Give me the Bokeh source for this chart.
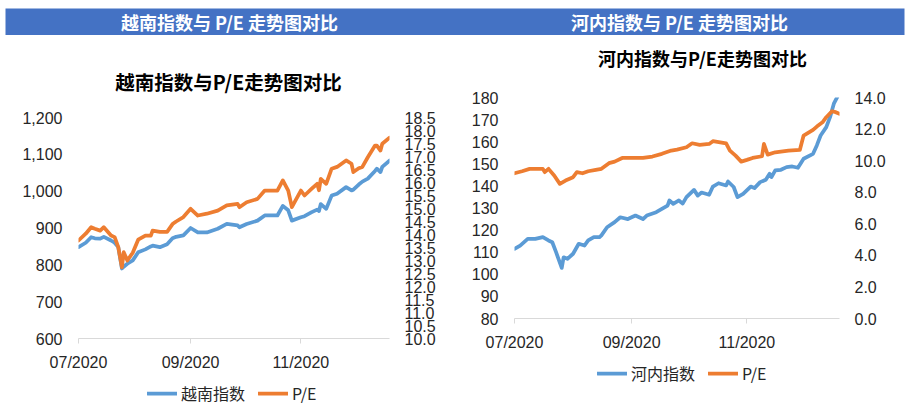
import pandas as pd
from bokeh.plotting import figure
from bokeh.models import (Range1d, LinearAxis, FixedTicker, NumeralTickFormatter,
                          DatetimeTickFormatter, Legend, LegendItem)
from bokeh.core.properties import value
from bokeh.embed import file_html
from bokeh.resources import INLINE

# ---------------- data ----------------
header_titles = ["越南指数与 P/E 走势图对比", "河内指数与 P/E 走势图对比"]
chart_titles = ["越南指数与P/E走势图对比", "河内指数与P/E走势图对比"]
legend_labels_vn = ["越南指数", "P/E"]
legend_labels_hn = ["河内指数", "P/E"]
tick_dates = ["2020-07-01", "2020-09-01", "2020-11-01"]
x_start, x_end = "2020-07-01", "2020-12-20"

vn_dates = ["2020-07-01", "2020-07-05", "2020-07-08", "2020-07-10", "2020-07-13", "2020-07-15",
            "2020-07-19", "2020-07-21", "2020-07-23", "2020-07-25", "2020-07-26", "2020-07-28",
            "2020-07-31", "2020-08-03", "2020-08-07", "2020-08-10", "2020-08-11", "2020-08-15",
            "2020-08-19", "2020-08-22", "2020-08-24", "2020-08-28", "2020-09-01", "2020-09-05",
            "2020-09-10", "2020-09-16", "2020-09-21", "2020-09-27", "2020-09-28", "2020-10-02",
            "2020-10-08", "2020-10-12", "2020-10-19", "2020-10-22", "2020-10-25", "2020-10-27",
            "2020-11-01", "2020-11-03", "2020-11-07", "2020-11-10", "2020-11-11", "2020-11-12",
            "2020-11-15", "2020-11-18", "2020-11-21", "2020-11-26", "2020-11-29", "2020-11-30",
            "2020-12-03", "2020-12-05", "2020-12-08", "2020-12-12", "2020-12-13", "2020-12-15",
            "2020-12-16", "2020-12-20"]
vn_index = [848, 860, 875, 872, 871, 876, 866, 860, 848, 790, 795, 803,
            812, 834, 842, 850, 852, 848, 856, 872, 876, 880, 900, 888,
            888, 898, 911, 907, 902, 911, 920, 934, 934, 960, 948, 920,
            929, 932, 943, 950, 946, 965, 952, 988, 993, 1011, 1002, 1004,
            1018, 1026, 1034, 1055, 1061, 1052, 1066, 1083]
vn_pe = [13.77, 14.03, 14.28, 14.22, 14.15, 14.28, 13.96, 13.90, 13.51, 12.74, 13.32, 13.00,
         13.30, 13.80, 13.96, 13.96, 14.15, 14.10, 14.10, 14.40, 14.50, 14.67, 14.99, 14.73,
         14.80, 14.92, 15.12, 15.18, 15.05, 15.24, 15.37, 15.69, 15.69, 16.08, 15.69, 15.05,
         15.69, 15.50, 15.76, 15.95, 15.70, 16.14, 15.95, 16.53, 16.60, 16.85, 16.72, 16.40,
         16.55, 16.60, 16.97, 17.42, 17.42, 17.23, 17.49, 17.72]

hn_index_dates = ["2020-07-01", "2020-07-04", "2020-07-08", "2020-07-12", "2020-07-16", "2020-07-19",
                  "2020-07-21", "2020-07-23", "2020-07-26", "2020-07-27", "2020-07-29", "2020-08-01",
                  "2020-08-04", "2020-08-07", "2020-08-09", "2020-08-12", "2020-08-15", "2020-08-16",
                  "2020-08-19", "2020-08-23", "2020-08-26", "2020-08-30", "2020-09-03", "2020-09-07",
                  "2020-09-09", "2020-09-14", "2020-09-17", "2020-09-20", "2020-09-21", "2020-09-23",
                  "2020-09-26", "2020-09-28", "2020-09-30", "2020-10-04", "2020-10-06", "2020-10-08",
                  "2020-10-12", "2020-10-14", "2020-10-17", "2020-10-21", "2020-10-22", "2020-10-25",
                  "2020-10-27", "2020-10-30", "2020-11-03", "2020-11-05", "2020-11-08", "2020-11-11",
                  "2020-11-13", "2020-11-14", "2020-11-16", "2020-11-19", "2020-11-22", "2020-11-25",
                  "2020-11-28", "2020-12-01", "2020-12-06", "2020-12-08", "2020-12-10", "2020-12-13",
                  "2020-12-15", "2020-12-17", "2020-12-19"]
hn_index = [111.5, 113.0, 116.0, 116.0, 116.8, 115.3, 114.5, 110.0, 102.9, 107.7, 107.0, 109.3,
            113.8, 113.0, 115.3, 116.8, 116.8, 117.6, 121.3, 123.6, 125.8, 125.0, 126.6, 125.0,
            126.6, 128.1, 129.6, 131.1, 133.4, 131.9, 133.4, 132.0, 134.9, 138.2, 135.6, 137.0,
            136.0, 139.7, 141.2, 140.2, 142.0, 139.5, 134.9, 136.4, 139.7, 139.0, 141.7, 142.8,
            145.5, 144.0, 147.0, 147.3, 148.5, 148.8, 148.2, 152.3, 154.5, 158.3, 162.8, 166.6,
            171.1, 177.2, 180.5]

hn_pe_dates = ["2020-07-01", "2020-07-05", "2020-07-09", "2020-07-16", "2020-07-17", "2020-07-19",
               "2020-07-22", "2020-07-25", "2020-07-28", "2020-08-01", "2020-08-03", "2020-08-06",
               "2020-08-09", "2020-08-13", "2020-08-16", "2020-08-20", "2020-08-23", "2020-08-27",
               "2020-09-01", "2020-09-07", "2020-09-12", "2020-09-17", "2020-09-22", "2020-09-25",
               "2020-09-30", "2020-10-03", "2020-10-07", "2020-10-12", "2020-10-14", "2020-10-21",
               "2020-10-23", "2020-10-26", "2020-10-29", "2020-11-01", "2020-11-04", "2020-11-09",
               "2020-11-10", "2020-11-12", "2020-11-16", "2020-11-23", "2020-11-29", "2020-12-01",
               "2020-12-06", "2020-12-08", "2020-12-11", "2020-12-13", "2020-12-16", "2020-12-18",
               "2020-12-20"]
hn_pe = [9.20, 9.33, 9.48, 9.48, 9.27, 9.48, 9.06, 8.53, 8.74, 8.95, 9.27, 9.20,
         9.33, 9.42, 9.48, 9.84, 9.94, 10.17, 10.17, 10.17, 10.26, 10.43, 10.64, 10.70,
         10.85, 11.10, 11.00, 11.06, 11.23, 11.10, 10.64, 10.32, 9.94, 10.05, 10.17, 10.28,
         11.06, 10.38, 10.53, 10.64, 10.68, 11.59, 11.95, 12.16, 12.43, 12.75, 13.13, 13.07,
         12.96]

vn_left_ticks = [600, 700, 800, 900, 1000, 1100, 1200]
vn_right_ticks = [10.0, 10.5, 11.0, 11.5, 12.0, 12.5, 13.0, 13.5, 14.0, 14.5, 15.0, 15.5,
                  16.0, 16.5, 17.0, 17.5, 18.0, 18.5]
hn_left_ticks = [80, 90, 100, 110, 120, 130, 140, 150, 160, 170, 180]
hn_right_ticks = [0.0, 2.0, 4.0, 6.0, 8.0, 10.0, 12.0, 14.0]

# ---------------- style ----------------
BLUE = "#5B9BD5"
ORANGE = "#ED7D31"
HEADER = "#4472C4"
TXT = "#262626"
NUM_FONT = "Liberation Sans"
CJK_FONT = "Noto Sans CJK SC"
LW = 3.75


def ts(s):
    return pd.Timestamp(s)


def ms(s):
    return pd.Timestamp(s).value // 10**6


def place(left, top):
    return {"position": "absolute", "left": f"{left}px", "top": f"{top}px"}


def blank_fig(pos, width, height, bg="white"):
    f = figure(width=width, height=height, x_range=Range1d(0, width), y_range=Range1d(0, height),
               toolbar_location=None, output_backend="svg", min_border=0,
               x_axis_location=None, y_axis_location=None, outline_line_color=None,
               background_fill_color=bg, border_fill_color=bg, styles=place(*pos))
    f.grid.visible = False
    return f


def style_y(ax, standoff):
    ax.axis_line_color = None
    ax.major_tick_line_color = None
    ax.minor_tick_line_color = None
    ax.major_tick_out = 0
    ax.major_tick_in = 0
    ax.major_label_text_font = NUM_FONT
    ax.major_label_text_font_size = "16px"
    ax.major_label_text_color = TXT
    ax.major_label_standoff = standoff


def make_chart(pos, width, idx_dates, idx_vals, pe_dates, pe_vals, y_rng, y_ticks, y_fmt,
               pe_rng, pe_ticks, borders):
    left, right, top, bottom = borders
    p = figure(width=width, height=368, x_axis_type="datetime",
               x_range=Range1d(ts(x_start), ts(x_end)), y_range=Range1d(*y_rng),
               toolbar_location=None, output_backend="svg",
               min_border_left=left, min_border_right=right,
               min_border_top=top, min_border_bottom=bottom,
               outline_line_color=None, background_fill_color="white",
               border_fill_color="white", styles=place(*pos))
    p.grid.visible = False
    p.extra_y_ranges = {"pe": Range1d(*pe_rng)}

    p.line(x=pd.to_datetime(idx_dates), y=idx_vals, line_color=BLUE, line_width=LW,
           line_join="round", line_cap="round")
    p.line(x=pd.to_datetime(pe_dates), y=pe_vals, y_range_name="pe", line_color=ORANGE,
           line_width=LW, line_join="round", line_cap="round")

    xa = p.xaxis[0]
    xa.ticker = FixedTicker(ticks=[ms(d) for d in tick_dates])
    xa.formatter = DatetimeTickFormatter(
        microseconds="%m/%Y", milliseconds="%m/%Y", seconds="%m/%Y", minsec="%m/%Y",
        minutes="%m/%Y", hourmin="%m/%Y", hours="%m/%Y", days="%m/%Y",
        months="%m/%Y", years="%m/%Y", context=None)
    xa.axis_line_color = "#D9D9D9"
    xa.major_tick_line_color = "#D9D9D9"
    xa.minor_tick_line_color = None
    xa.major_tick_out = 5
    xa.major_tick_in = 0
    xa.major_label_text_font = NUM_FONT
    xa.major_label_text_font_size = "16px"
    xa.major_label_text_color = TXT
    xa.major_label_standoff = 10

    ya = p.yaxis[0]
    ya.ticker = FixedTicker(ticks=y_ticks)
    ya.formatter = NumeralTickFormatter(format=y_fmt)
    style_y(ya, 16)

    ra = LinearAxis(y_range_name="pe", ticker=FixedTicker(ticks=pe_ticks),
                    formatter=NumeralTickFormatter(format="0.0"))
    style_y(ra, 15)
    p.add_layout(ra, "right")
    return p


def make_title(pos, width, height, text, size, cx):
    f = blank_fig(pos, width, height)
    f.text(x=[cx], y=[height / 2], text=[text], text_align="center", text_baseline="middle",
           text_color="#000000", text_font=value(CJK_FONT), text_font_style="bold",
           text_font_size=size)
    return f


def make_legend(pos, labels, idx_dates, idx_vals, pe_dates, pe_vals):
    # legend proxies: the series themselves, lying outside this small canvas' range
    f = blank_fig(pos, 180, 24)
    r1 = f.line(x=pd.to_datetime(idx_dates), y=idx_vals, line_color=BLUE, line_width=LW,
                line_cap="round")
    r2 = f.line(x=pd.to_datetime(pe_dates), y=pe_vals, line_color=ORANGE, line_width=LW,
                line_cap="round")
    leg = Legend(items=[LegendItem(label=labels[0], renderers=[r1]),
                        LegendItem(label=labels[1], renderers=[r2])],
                 orientation="horizontal", location="top_left",
                 glyph_width=30, glyph_height=24, label_height=24,
                 label_standoff=4, spacing=13, padding=0, margin=0,
                 border_line_color=None, background_fill_alpha=0,
                 label_text_font=CJK_FONT, label_text_font_size="16px",
                 label_text_color=TXT)
    f.add_layout(leg)
    return f


# header bar (blue band from x=5 to 904, y=8 to 35)
hdr = figure(width=909, height=35, x_range=Range1d(5, 904), y_range=Range1d(0, 27),
             toolbar_location=None, output_backend="svg",
             min_border_left=5, min_border_right=5, min_border_top=8, min_border_bottom=0,
             x_axis_location=None, y_axis_location=None, outline_line_color=None,
             background_fill_color=HEADER, border_fill_color="white",
             styles=place(0, 0))
hdr.grid.visible = False
hdr.text(x=[229, 679], y=[13.5, 13.5], text=header_titles, text_align="center",
         text_baseline="middle", text_color="white", text_font=value(CJK_FONT),
         text_font_style="bold", text_font_size="18px")

p1 = make_chart((0, 35), 455, vn_dates, vn_index, vn_dates, vn_pe, (600, 1200), vn_left_ticks,
                "0,0", (10, 18.5), vn_right_ticks, (78, 66, 82, 65))
p2 = make_chart((455, 35), 454, hn_index_dates, hn_index, hn_pe_dates, hn_pe, (80, 180),
                hn_left_ticks, "0", (0, 14), hn_right_ticks, (59, 70, 62, 85))

t1 = make_title((0, 67), 455, 28, chart_titles[0], "19.5px", 228)
t2 = make_title((455, 43), 454, 28, chart_titles[1], "18px", 247)

l1 = make_legend((147, 381), legend_labels_vn, vn_dates, vn_index, vn_dates, vn_pe)
l2 = make_legend((597, 361), legend_labels_hn, hn_index_dates, hn_index, hn_pe_dates, hn_pe)

open("out.html", "w").write(file_html([hdr, p1, p2, t1, t2, l1, l2], INLINE))
